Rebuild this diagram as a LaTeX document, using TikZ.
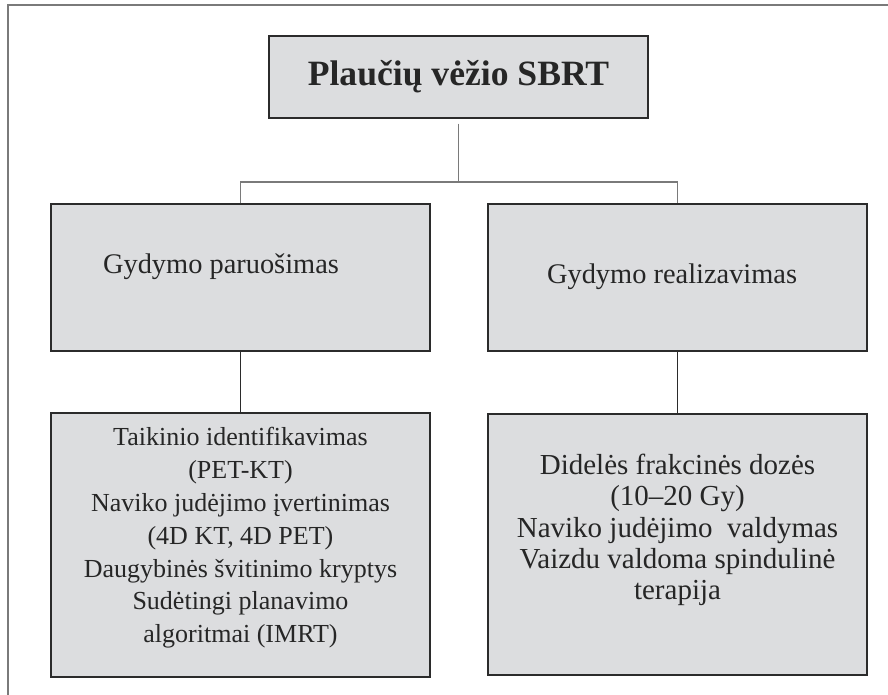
\documentclass[tikz,border=0pt]{standalone}
\usepackage{fontspec}
\setmainfont{Liberation Serif}
\usepackage{tikz}

\definecolor{boxgray}{HTML}{DCDDDF}
\definecolor{edgegray}{HTML}{2B2B2B}
\definecolor{framegray}{HTML}{7A7A7A}

\begin{document}
\begin{tikzpicture}[x=0.5pt,y=-0.5pt,
	box/.style={draw=edgegray, fill=boxgray, line width=0.7pt, minimum width=189.5pt, inner sep=0pt},
	txt/.style={font=\fontsize{13}{16.4}\selectfont, align=center, text=black!85},
	head/.style={font=\fontsize{14.2}{17}\selectfont, text=black!85}]
	\useasboundingbox (0,0) rectangle (888,695);
	\draw[framegray, line width=1pt] (8,695) -- (8,5.5) -- (888,5.5);
	\draw (458.5,77) node(sbrt) [box, minimum height=41pt] {};
	\draw (240.5,277.5) node(prep) [box, minimum height=73.5pt] {};
	\draw (677.5,277.5) node(real) [box, minimum height=73.5pt] {};
	\draw (240.5,545) node(steps) [box, minimum height=132pt] {};
	\draw (677.5,544.5) node(deliv) [box, minimum height=130.5pt] {};
	\draw (458.5,77) node(sbrttxt) [head, font=\fontsize{17.8}{20}\selectfont\bfseries] {Plaučių vėžio SBRT};
	\draw (96,273) node(preptxt) [head, anchor=base west] {Gydymo paruošimas};
	\draw (540,284) node(realtxt) [head, anchor=base west] {Gydymo realizavimas};
	\draw (240.5,538) node(stepstxt) [txt] {Taikinio identifikavimas\\(PET-KT)\\Naviko judėjimo įvertinimas\\(4D KT, 4D PET)\\Daugybinės švitinimo kryptys\\Sudėtingi planavimo\\algoritmai (IMRT)};
	\draw (677.5,530) node(delivtxt) [txt, font=\fontsize{14.5}{15.6}\selectfont] {Didelės frakcinės dozės\\(10–20 Gy)\\Naviko judėjimo \ valdymas\\Vaizdu valdoma spindulinė\\terapija};
	\coordinate (fork) at (458.5,182);
	\path[draw, framegray, line width=0.6pt] ([yshift=-2.5pt]sbrt.south) -- (fork);
	\path[draw, framegray, line width=0.6pt] (prep.north) |- (fork) -| (real.north);
	\path[draw, edgegray, line width=0.6pt] (prep.south) -- (steps.north);
	\path[draw, edgegray, line width=0.6pt] (real.south) -- (deliv.north);
\end{tikzpicture}
\end{document}
